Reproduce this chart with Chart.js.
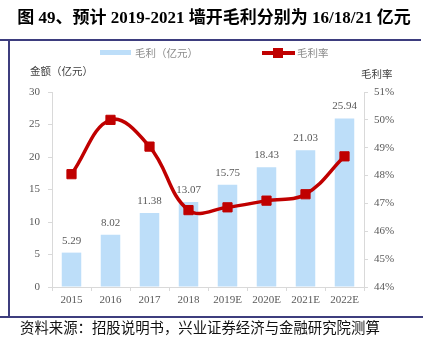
<!DOCTYPE html>
<html>
<head>
<meta charset="utf-8">
<script src="https://cdn.jsdelivr.net/npm/chart.js@4/dist/chart.umd.min.js"></script>
<style>
  html, body { margin: 0; padding: 0; background: #fff; }
  #wrap { position: relative; width: 423px; height: 354px; }
</style>
</head>
<body>
<div id="wrap"><canvas id="chart"></canvas></div>
<script>
/* ── DATA ── */
const years       = ['2015', '2016', '2017', '2018', '2019E', '2020E', '2021E', '2022E'];
const grossProfit = [5.29, 8.02, 11.38, 13.07, 15.75, 18.43, 21.03, 25.94];   // 亿元
const grossMargin = [48.05, 50.0, 49.04, 46.76, 46.86, 47.10, 47.33, 48.69]; // %
const leftTicks   = { min: 0,  max: 30, step: 5 };
const rightTicks  = { min: 44, max: 51, step: 1 };

const TITLE  = '图 49、预计 2019-2021 墙开毛利分别为 16/18/21 亿元';
const SOURCE = '资料来源：招股说明书，兴业证券经济与金融研究院测算';

/* ── STYLE ── */
const SERIF   = '"Liberation Serif", "Noto Sans CJK SC", serif';
const CJK     = '"Noto Sans CJK SC", sans-serif';
const BAR_C   = '#BDDEF9';
const LINE_C  = '#C00000';
const AXIS_C  = '#D9D9D9';
const TEXT_C  = '#595959';
const FRAME_C = '#3D3D7E';

/* ── DECORATIONS: frame, title, legend, axis titles, labels ── */
const decor = {
  id: 'decor',
  beforeDraw(chart) {
    const ctx = chart.ctx;
    ctx.save();
    ctx.fillStyle = '#fff';
    ctx.fillRect(0, 0, chart.width, chart.height);

    /* frame */
    ctx.strokeStyle = FRAME_C;
    ctx.lineWidth = 2;
    ctx.beginPath();
    ctx.moveTo(0, 40);   ctx.lineTo(421, 40);
    ctx.moveTo(9, 40);   ctx.lineTo(9, 317);
    ctx.moveTo(0, 317);  ctx.lineTo(423, 317);
    ctx.stroke();

    /* title */
    ctx.fillStyle = '#000';
    ctx.font = 'bold 17px ' + SERIF;
    ctx.textAlign = 'center';
    ctx.textBaseline = 'middle';
    ctx.fillText(TITLE, 214, 19);

    /* source */
    ctx.font = '14.4px ' + CJK;
    ctx.textAlign = 'left';
    ctx.fillStyle = '#111';
    ctx.fillText(SOURCE, 20, 328);

    /* legend */
    ctx.fillStyle = BAR_C;
    ctx.fillRect(100, 50, 31, 5);
    ctx.strokeStyle = LINE_C;
    ctx.lineWidth = 4;
    ctx.beginPath();
    ctx.moveTo(262, 53); ctx.lineTo(295, 53);
    ctx.stroke();
    ctx.fillStyle = LINE_C;
    ctx.fillRect(273, 48, 10, 10);

    ctx.fillStyle = '#8C8C8C';
    ctx.font = '10.5px ' + CJK;
    ctx.fillText('毛利（亿元）', 135, 53);
    ctx.fillText('毛利率', 297, 53);

    /* axis titles */
    ctx.fillStyle = '#404040';
    ctx.fillText('金额（亿元）', 30, 71);
    ctx.fillText('毛利率', 361, 74);
    ctx.restore();
  },
  afterDatasetsDraw(chart) {
    const ctx  = chart.ctx;
    const meta = chart.getDatasetMeta(1);
    ctx.save();
    ctx.fillStyle = TEXT_C;
    ctx.font = '11px ' + SERIF;
    ctx.textAlign = 'center';
    ctx.textBaseline = 'alphabetic';
    meta.data.forEach((bar, i) => {
      ctx.fillText(grossProfit[i].toFixed(2), bar.x, bar.y - 9);
    });
    ctx.restore();
  }
};

/* ── CHART ── */
new Chart(document.getElementById('chart').getContext('2d'), {
  data: {
    labels: years,
    datasets: [
      {
        type: 'line',
        label: '毛利率',
        data: grossMargin,
        yAxisID: 'yRate',
        borderColor: LINE_C,
        borderWidth: 3.5,
        tension: 0.4,
        pointStyle: 'rect',
        pointRadius: 6.5,
        pointBackgroundColor: LINE_C,
        pointBorderColor: LINE_C,
        pointBorderWidth: 1,
        order: 0
      },
      {
        type: 'bar',
        label: '毛利（亿元）',
        data: grossProfit,
        yAxisID: 'yAmt',
        backgroundColor: BAR_C,
        barPercentage: 0.5,
        categoryPercentage: 1,
        order: 1
      }
    ]
  },
  options: {
    responsive: true,
    maintainAspectRatio: false,
    animation: false,
    layout: { padding: { top: 92, left: 0, right: 0, bottom: 0 } },
    plugins: {
      legend:  { display: false },
      tooltip: { enabled: false }
    },
    scales: {
      x: {
        grid:   { display: true, drawOnChartArea: false, tickLength: 4, color: AXIS_C, offset: true },
        border: { color: AXIS_C },
        ticks:  { font: { family: SERIF, size: 11 }, color: TEXT_C, padding: 3, maxRotation: 0 },
        afterFit(s) { s.height = 354 - 287; }
      },
      yAmt: {
        position: 'left',
        min: leftTicks.min, max: leftTicks.max,
        grid:   { drawOnChartArea: false, tickLength: 4, color: AXIS_C },
        border: { color: AXIS_C },
        ticks:  { stepSize: leftTicks.step, font: { family: SERIF, size: 11 }, color: TEXT_C, padding: 8 },
        afterFit(s) { s.width = 52; }
      },
      yRate: {
        position: 'right',
        min: rightTicks.min, max: rightTicks.max,
        grid:   { drawOnChartArea: false, tickLength: 4, color: AXIS_C },
        border: { color: AXIS_C },
        ticks:  {
          stepSize: rightTicks.step,
          font: { family: SERIF, size: 11 },
          color: TEXT_C,
          padding: 6,
          callback: v => v + '%'
        },
        afterFit(s) { s.width = 423 - 364; }
      }
    }
  },
  plugins: [decor]
});
</script>
</body>
</html>
